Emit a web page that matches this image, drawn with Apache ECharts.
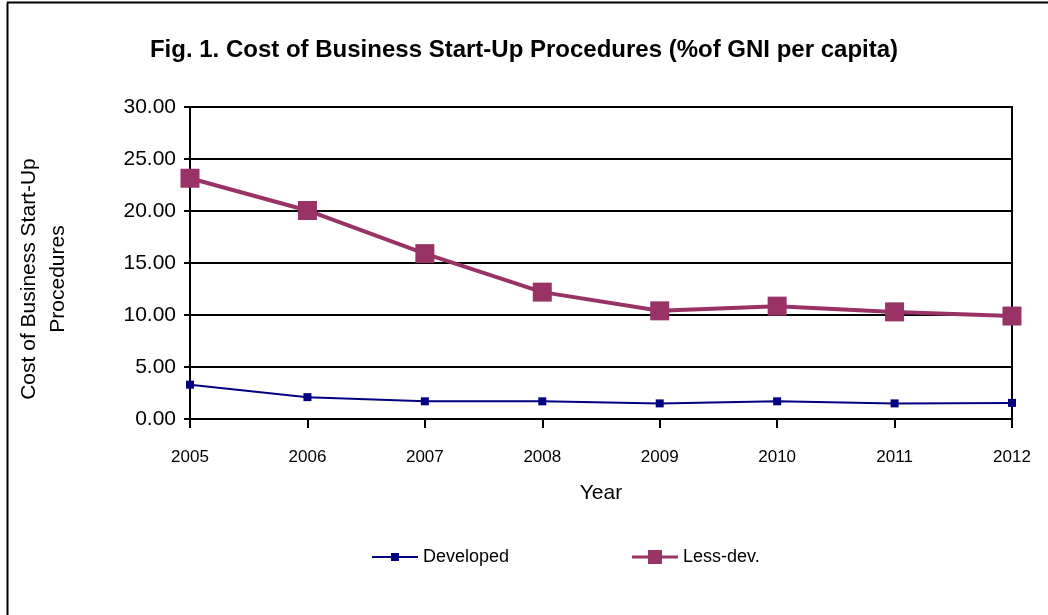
<!DOCTYPE html>
<html>
<head>
<meta charset="utf-8">
<script src="https://cdn.jsdelivr.net/npm/echarts@6/dist/echarts.min.js"></script>
<style>
  html, body { margin: 0; padding: 0; background: #fff; }
  #chart { width: 1048px; height: 615px; }
</style>
</head>
<body>
<div id="chart"></div>
<script>
// Cost of business start-up procedures (% of GNI per capita), 2005-2012
const years = ['2005', '2006', '2007', '2008', '2009', '2010', '2011', '2012'];
const developed = [3.3, 2.1, 1.7, 1.7, 1.5, 1.7, 1.5, 1.55];
const lessDeveloped = [23.15, 20.05, 15.9, 12.2, 10.4, 10.85, 10.3, 9.9];

const FONT = "'Liberation Sans', Arial, sans-serif";

const NAVY = '#000080';
const PLUM = '#993366';

// legend glyphs: a line with a square marker centred on it
const devIcon = 'path://M0,3 H46 V5 H0 Z M19,0 H27 V8 H19 Z';
const lessIcon = 'path://M0,5.5 H46 V8.5 H0 Z M16,0 H30 V14 H16 Z';

const chart = echarts.init(document.getElementById('chart'), null, { renderer: 'canvas' });

chart.setOption({
  backgroundColor: '#ffffff',
  animation: false,
  title: {
    text: 'Fig. 1. Cost of Business Start-Up Procedures (%of GNI per capita)',
    left: 'center',
    top: 33,
    textStyle: { fontFamily: FONT, fontSize: 24, fontWeight: 'bold', color: '#000' }
  },
  graphic: [
    // outer chart frame (left and top edges)
    { type: 'line', shape: { x1: 7.5, y1: 2.5, x2: 7.5, y2: 615 }, style: { stroke: '#000', lineWidth: 2 } },
    { type: 'line', shape: { x1: 7, y1: 2.5, x2: 1048, y2: 2.5 }, style: { stroke: '#000', lineWidth: 2 } }
  ],
  grid: {
    left: 190, right: 36, top: 107, bottom: 196,
    show: true, borderColor: '#000', borderWidth: 2
  },
  legend: [
    {
      left: 367, top: 543,
      itemWidth: 46, itemHeight: 8, itemGap: 0,
      textStyle: { fontFamily: FONT, fontSize: 18, color: '#000' },
      data: [{ name: 'Developed', icon: devIcon }]
    },
    {
      left: 627, top: 543,
      itemWidth: 46, itemHeight: 14, itemGap: 0,
      textStyle: { fontFamily: FONT, fontSize: 18, color: '#000' },
      data: [{ name: 'Less-dev.', icon: lessIcon }]
    }
  ],
  xAxis: {
    type: 'category',
    data: years,
    boundaryGap: false,
    name: 'Year',
    nameLocation: 'middle',
    nameGap: 64,
    nameTextStyle: { fontFamily: FONT, fontSize: 21, color: '#000' },
    axisLine: { lineStyle: { color: '#000', width: 2 } },
    axisTick: { show: true, length: 9, lineStyle: { color: '#000', width: 2 } },
    axisLabel: { fontFamily: FONT, fontSize: 17, color: '#000', margin: 30 },
    splitLine: { show: false }
  },
  yAxis: {
    type: 'value',
    min: 0, max: 30, interval: 5,
    name: 'Cost of Business Start-Up\nProcedures',
    nameLocation: 'middle',
    nameGap: 117,
    nameRotate: 90,
    nameTextStyle: {
      fontFamily: FONT, fontSize: 21, color: '#000', lineHeight: 29,
      padding: [0, 32, 0, 0]
    },
    axisLine: { show: true, lineStyle: { color: '#000', width: 2 } },
    axisTick: { show: true, length: 6, lineStyle: { color: '#000', width: 2 } },
    axisLabel: {
      fontFamily: FONT, fontSize: 21, color: '#000', margin: 14,
      formatter: v => v.toFixed(2)
    },
    splitLine: { show: true, lineStyle: { color: '#000', width: 2 } }
  },
  series: [
    {
      name: 'Developed',
      type: 'line',
      data: developed,
      color: NAVY,
      symbol: 'rect',
      symbolSize: 8,
      lineStyle: { width: 2, color: NAVY },
      itemStyle: { color: NAVY },
      z: 3
    },
    {
      name: 'Less-dev.',
      type: 'line',
      data: lessDeveloped,
      color: PLUM,
      symbol: 'rect',
      symbolSize: 19,
      lineStyle: { width: 4, color: PLUM },
      itemStyle: { color: PLUM },
      z: 4
    }
  ]
});
</script>
</body>
</html>
